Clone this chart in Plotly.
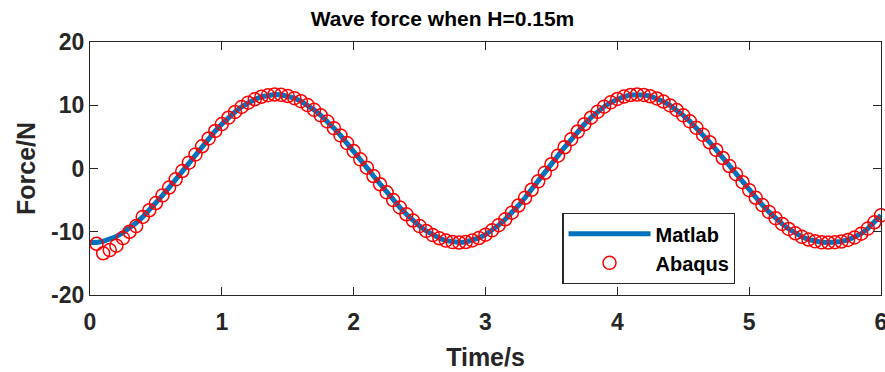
import plotly.graph_objects as go

# Time axis (s), sampled every 0.05 s
time_line = [round(0.05 * i, 2) for i in range(121)]
force_matlab = [
    # 0.00 - 0.45
    -11.7, -11.7, -11.5, -11.2, -10.75, -10.15, -9.43, -8.59, -7.65, -6.60,
    # 0.50 - 0.95
    -5.46, -4.26, -3.01, -1.71, -0.40, 0.92, 2.23, 3.51, 4.75, 5.93,
    # 1.00 - 1.45
    7.02, 8.03, 8.94, 9.74, 10.41, 10.94, 11.34, 11.59, 11.70, 11.65,
    # 1.50 - 1.95
    11.46, 11.12, 10.64, 10.02, 9.27, 8.41, 7.44, 6.38, 5.23, 4.02,
    # 2.00 - 2.45
    2.75, 1.45, 0.13, -1.19, -2.49, -3.77, -4.99, -6.15, -7.24, -8.23,
    # 2.50 - 2.95
    -9.11, -9.88, -10.53, -11.03, -11.40, -11.63, -11.70, -11.62, -11.38, -10.99,
    # 3.00 - 3.45
    -10.46, -9.78, -8.96, -8.03, -6.99, -5.85, -4.63, -3.36, -2.03, -0.68,
    # 3.50 - 3.95
    0.68, 2.03, 3.36, 4.63, 5.85, 6.99, 8.03, 8.96, 9.78, 10.46,
    # 4.00 - 4.45
    10.99, 11.38, 11.62, 11.70, 11.63, 11.42, 11.07, 10.59, 9.98, 9.25,
    # 4.50 - 4.95
    8.41, 7.46, 6.43, 5.32, 4.15, 2.93, 1.66, 0.39, -0.90, -2.17,
    # 5.00 - 5.45
    -3.42, -4.63, -5.78, -6.86, -7.86, -8.76, -9.56, -10.24, -10.80, -11.23,
    # 5.50 - 5.95
    -11.52, -11.67, -11.70, -11.65, -11.55, -11.3, -10.9, -10.3, -9.5, -8.5,
    # 6.00
    -7.4,
]

time_abaqus = time_line[1:]
force_abaqus = [-11.9, -13.4, -12.9, -12.2, -11.0, -10.0, -9.1] + force_matlab[8:]

x_ticks = [0, 1, 2, 3, 4, 5, 6]
x_labels = ["0", "1", "2", "3", "4", "5", "6"]
y_ticks = [-20, -10, 0, 10, 20]
y_labels = ["-20", "-10", "0", "10", "20"]

axis_col = "#262626"
fig = go.Figure()
fig.add_trace(go.Scatter(
    x=time_line, y=force_matlab, mode="lines", name="Matlab",
    line=dict(color="#0072BD", width=5),
))
fig.add_trace(go.Scatter(
    x=time_abaqus, y=force_abaqus, mode="markers", name="Abaqus",
    marker=dict(symbol="circle-open", size=13, color="#FF0000",
                line=dict(width=1.5, color="#FF0000")),
    cliponaxis=False,
))

fig.update_layout(
    width=885, height=372,
    margin=dict(l=90, r=4, t=42, b=77, autoexpand=False),
    paper_bgcolor="white", plot_bgcolor="white",
    font=dict(family="Liberation Sans, Arial, sans-serif", size=23,
              color=axis_col, weight="bold"),
    title=dict(text="Wave force when H=0.15m", x=0.5, xanchor="center",
               y=0.95, yanchor="middle",
               font=dict(size=21, color="black", weight="bold")),
    showlegend=True,
    legend=dict(x=0.597, y=0.324, xanchor="left", yanchor="top",
                bgcolor="white", bordercolor=axis_col, borderwidth=1.3,
                font=dict(size=20, color="black", weight="bold"),
                itemwidth=82, tracegroupgap=0),
)
fig.update_xaxes(
    range=[0, 6], tickvals=x_ticks, ticktext=x_labels, ticks="inside", ticklen=8,
    tickcolor=axis_col, showline=True, linecolor=axis_col, linewidth=1.3,
    mirror="ticks", showgrid=False, zeroline=False, automargin=False,
    ticklabeloverflow="allow", ticklabelstandoff=6,
    title=dict(text="Time/s", standoff=14, font=dict(size=25)),
)
fig.update_yaxes(
    range=[-20, 20], tickvals=y_ticks, ticktext=y_labels, ticks="inside", ticklen=8,
    tickcolor=axis_col, showline=True, linecolor=axis_col, linewidth=1.3,
    mirror="ticks", showgrid=False, zeroline=False, automargin=False,
    title=dict(text="Force/N", standoff=8, font=dict(size=25)),
)

fig.write_html("out.html")
